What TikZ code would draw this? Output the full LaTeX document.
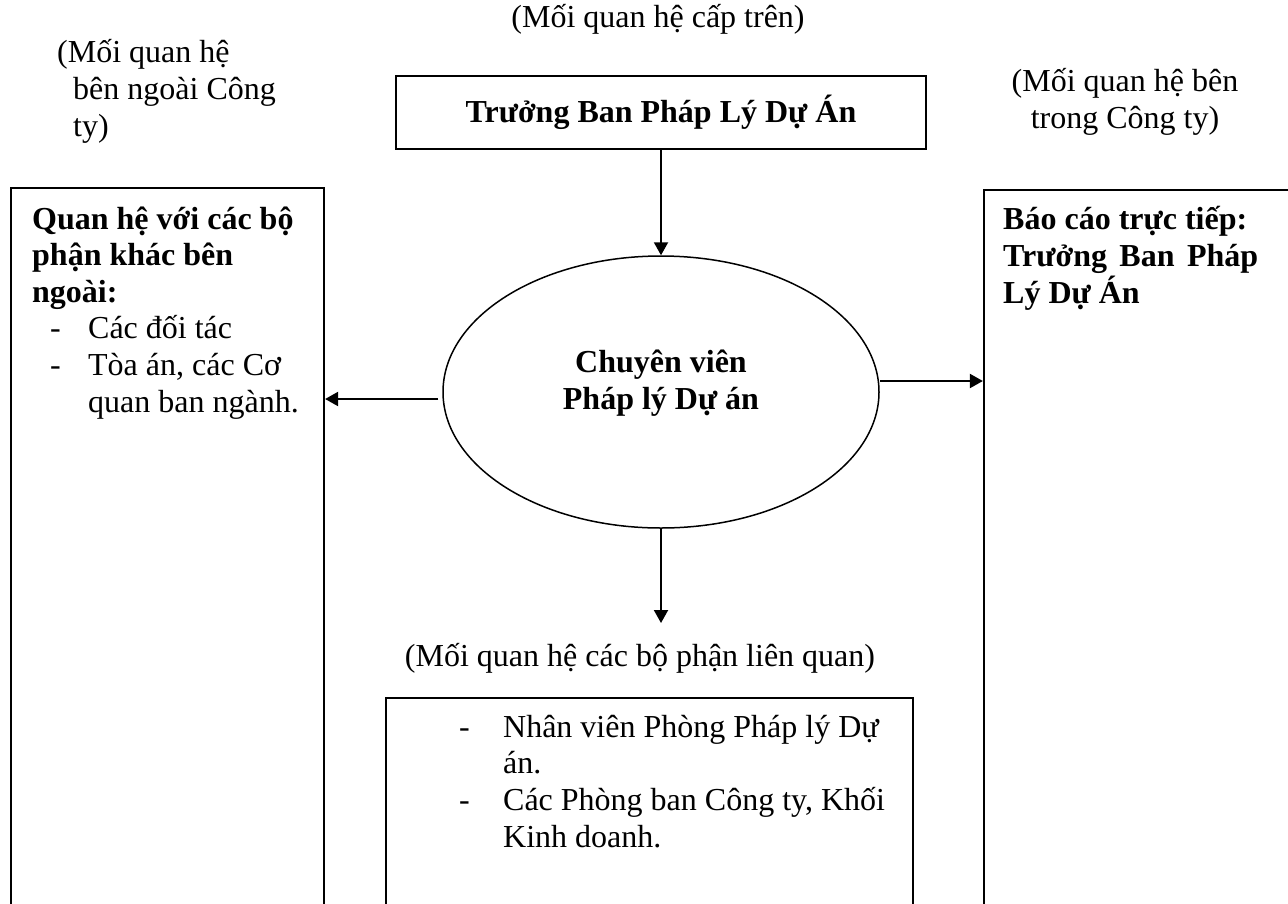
\documentclass[tikz,border=0pt]{standalone}
\usepackage{fontspec}
\setmainfont{Liberation Serif}
\usetikzlibrary{arrows.meta,positioning,shapes.geometric,calc}
\tikzset{
  boxframe/.style={draw=black, line width=#1, inner sep=0pt},
  boxframe/.default=2.2pt,
  roleoval/.style={ellipse, draw=black, line width=1.5pt, inner sep=0pt,
    minimum width=436pt, minimum height=272pt},
  bodytext/.style={align=left, inner sep=0pt, anchor=base west},
  note/.style={align=center, inner sep=0pt, anchor=base},
  link/.style={-{Triangle[length=13pt,width=14pt]}, line width=2pt, draw=black},
}
\newcommand{\dashpt}[1]{\makebox[#1][l]{-}}

\begin{document}
\begin{tikzpicture}[x=1pt, y=-1pt, font=\fontsize{32}{36.6}\selectfont]
      \useasboundingbox (0,0) rectangle (1288,903);
      \clip (0,0) rectangle (1288,903);

      %% ---- upper level ----
      \node[note] (uplbl) at (658,27) {(Mối quan hệ cấp trên)};
      \node[boxframe=2pt, minimum width=530pt, minimum height=73pt, font=\fontsize{32}{36.6}\selectfont\bfseries]
            (head) at (661,112.5) {Trưởng Ban Pháp Lý Dự Án};

      %% ---- side labels (base = last line) ----
      \node[bodytext] (extlbl) at (73,136)
            {\hspace*{-16pt}(Mối quan hệ\\bên ngoài Công\\ty)};
      \node[note] (intlbl) at (1125,128) {(Mối quan hệ bên\\trong Công ty)};

      %% ---- central role ----
      \node[roleoval] (role) at (661,392) {};
      \node[note, font=\fontsize{32}{36.6}\selectfont\bfseries] (roletxt) at (661,409)
            {Chuyên viên\\Pháp lý Dự án};

      %% ---- external relations (left) ----
      \node[boxframe, minimum width=313pt, minimum height=812pt] (extbox) at (167.5,594) {};
      \node[bodytext] (exttxt) at (32,412)
            {\textbf{Quan hệ với các bộ}\\
             \textbf{phận khác bên}\\
             \textbf{ngoài:}\\
             \hspace*{18pt}\dashpt{38pt}Các đối tác\\
             \hspace*{18pt}\dashpt{38pt}Tòa án, các Cơ\\
             \hspace*{56pt}quan ban ngành.};

      %% ---- direct report (right) ----
      \node[boxframe, minimum width=336pt, minimum height=810pt] (repbox) at (1152,595) {};
      \node[bodytext, font=\fontsize{32}{36.6}\selectfont\bfseries] (reptxt) at (1003,303)
            {Báo cáo trực tiếp:\\
             \makebox[255pt][s]{Trưởng Ban Pháp}\\
             Lý Dự Án};

      %% ---- related departments (bottom) ----
      \node[note] (rellbl) at (640,666) {(Mối quan hệ các bộ phận liên quan)};
      \node[boxframe=1.8pt, minimum width=527pt, minimum height=302pt] (relbox) at (649.5,849) {};
      \node[bodytext] (reltxt) at (459,847)
            {\dashpt{44pt}Nhân viên Phòng Pháp lý Dự\\
             \hspace*{44pt}án.\\
             \dashpt{44pt}Các Phòng ban Công ty, Khối\\
             \hspace*{44pt}Kinh doanh.};

      %% ---- connectors ----
      \coordinate (lstart) at ([xshift=-4pt,yshift=-7pt]role.west);
      \coordinate (rstart) at ([yshift=11pt]role.east);
      \coordinate (reltip) at (661,623);
      \draw[link] (head.south) -- (role.north);
      \draw[link] (lstart) -- (lstart -| extbox.east);
      \draw[link] (rstart) -- (rstart -| repbox.west);
      \draw[link] (role.south) -- (reltip);
\end{tikzpicture}
\end{document}
